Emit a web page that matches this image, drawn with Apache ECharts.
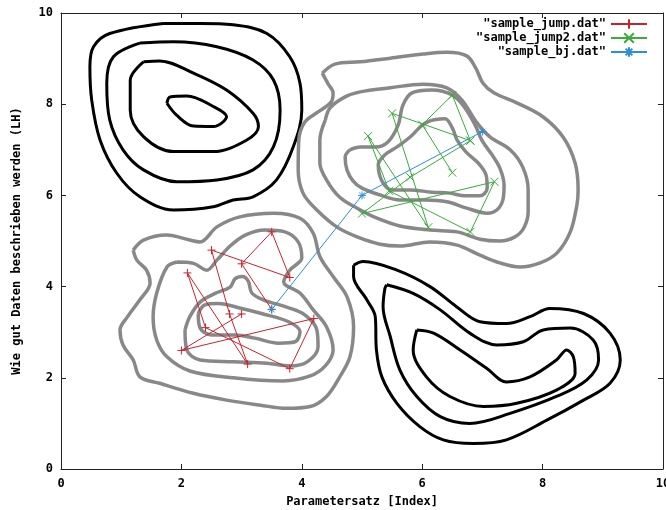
<!DOCTYPE html>
<html>
<head>
<meta charset="utf-8">
<script src="https://cdn.jsdelivr.net/npm/echarts@6/dist/echarts.min.js"></script>
<style>html,body{margin:0;padding:0;background:#fff}#c{width:666px;height:510px}</style>
</head>
<body>
<div id="c"></div>
<script>
// ---- axis ----
const axisMin = 0, axisMax = 10, axisStep = 2;
const xName = 'Parametersatz [Index]';
const yName = 'Wie gut Daten beschrieben werden (LH)';
const seriesNames = ['"sample_jump.dat"', '"sample_jump2.dat"', '"sample_bj.dat"'];

// ---- sampler traces ----
const sampleJump = [[3.5,3.5],[3.0,4.5],[3.5,5.2],[3.8,4.2],[2.5,4.8],[2.8,3.4],[3.1,2.3],[2.1,4.3],[2.4,3.1],[3.8,2.2],[4.2,3.3],[2.0,2.6],[3.0,3.4]];
const sampleJump2 = [[6.5,6.5],[6.0,7.55],[6.5,8.2],[6.8,7.2],[5.5,7.8],[6.1,5.3],[5.1,7.3],[5.45,6.1],[6.8,5.2],[7.2,6.3],[5.0,5.6],[5.8,6.4],[6.8,7.2]];
const sampleBj = [[3.5,3.5],[5.0,6.0],[7.0,7.4]];

// ---- black contours, upper-left mode ----
const blackUL1 = [[1.70,9.77],[0.81,9.55],[0.54,9.26],[0.48,8.82],[0.51,8.09],[0.65,7.21],[0.93,6.48],[1.31,5.97],[1.87,5.68],[2.53,5.75],[2.86,5.90],[3.19,5.97],[3.58,6.34],[3.86,7.07],[4.00,7.87],[3.97,8.46],[3.80,9.04],[3.42,9.55],[2.86,9.74],[2.31,9.77]];
const blackUL2 = [[1.31,9.34],[0.87,9.04],[0.76,8.46],[0.81,7.65],[1.03,7.0],[1.37,6.56],[1.92,6.30],[2.59,6.34],[3.19,6.56],[3.53,7.07],[3.64,7.87],[3.53,8.53],[3.19,8.97],[2.59,9.26],[1.87,9.37]];
const blackUL3 = [[1.37,8.93],[1.15,8.53],[1.15,7.87],[1.37,7.29],[1.87,6.96],[2.53,6.96],[3.08,7.21],[3.28,7.51],[3.19,7.80],[2.75,8.31],[2.20,8.68],[1.64,8.95]];
const blackUL4 = [[1.76,8.02],[1.81,8.16],[2.09,8.18],[2.53,7.95],[2.75,7.73],[2.53,7.51],[2.20,7.52],[1.92,7.76]];

// ---- black contours, lower-right mode ----
const blackLR1 = [[4.86,4.47],[5.02,4.55],[5.58,4.36],[6.13,4.00],[6.57,3.56],[6.96,3.23],[7.40,3.19],[7.79,3.34],[8.12,3.52],[8.68,3.41],[9.12,2.98],[9.29,2.39],[9.12,1.88],[8.68,1.51],[8.07,1.07],[7.40,0.64],[6.85,0.56],[6.35,0.64],[5.96,0.93],[5.58,1.44],[5.33,2.02],[5.24,2.61],[5.22,3.34],[5.08,3.71],[4.86,4.22]];
const blackLR2 = [[5.41,4.04],[5.85,3.85],[6.30,3.49],[6.79,2.98],[7.24,2.72],[7.68,2.79],[8.01,3.05],[8.46,3.09],[8.84,2.83],[8.93,2.39],[8.73,1.95],[8.23,1.59],[7.46,1.22],[6.79,1.00],[6.30,1.15],[5.91,1.59],[5.63,2.17],[5.47,2.90],[5.35,3.56],[5.38,3.96]];
const blackLR3 = [[5.91,3.05],[6.19,2.98],[6.63,2.61],[7.07,2.21],[7.40,1.91],[7.79,2.02],[8.23,2.39],[8.40,2.61],[8.51,2.46],[8.54,2.10],[8.23,1.73],[7.57,1.44],[7.02,1.37],[6.46,1.59],[6.07,2.02],[5.85,2.61]];

// ---- gray contours, lower-left mode ----
const grayLL1 = [[1.20,4.80],[1.37,5.02],[1.76,5.13],[2.14,5.02],[2.31,4.98],[2.59,5.31],[2.97,5.53],[3.53,5.61],[3.97,5.50],[4.19,5.17],[4.30,4.66],[4.52,4.22],[4.75,3.78],[4.86,3.12],[4.80,2.46],[4.63,2.02],[4.41,1.59],[4.14,1.37],[3.75,1.33],[3.31,1.40],[2.75,1.51],[2.20,1.66],[1.64,1.88],[1.31,2.02],[1.20,2.39],[1.03,2.72],[0.98,3.05],[1.10,3.33],[1.31,3.71],[1.48,4.08],[1.42,4.36],[1.26,4.58]];
const grayLL2 = [[1.92,4.54],[2.20,4.51],[2.42,4.36],[2.59,4.58],[2.81,4.89],[3.06,5.13],[3.39,5.24],[3.72,5.20],[3.94,4.98],[4.00,4.63],[3.80,4.36],[3.70,4.10],[3.97,3.86],[4.19,3.49],[4.41,3.12],[4.52,2.61],[4.39,2.26],[4.14,2.04],[3.69,1.93],[2.86,2.00],[2.14,2.15],[1.76,2.46],[1.59,2.83],[1.53,3.33],[1.59,3.86],[1.76,4.43]];
const grayLL3 = [[2.06,3.05],[2.14,3.34],[2.31,3.66],[2.56,3.85],[2.81,3.99],[2.89,4.17],[3.01,4.22],[3.11,4.12],[3.17,3.86],[3.36,3.71],[3.75,3.55],[4.05,3.38],[4.25,3.05],[4.27,2.68],[4.09,2.35],[3.80,2.26],[3.42,2.32],[2.86,2.35],[2.31,2.39],[2.09,2.61]];
const grayLL4 = [[2.28,3.41],[2.39,3.60],[2.61,3.63],[3.00,3.52],[3.33,3.41],[3.78,3.23],[3.97,3.01],[3.89,2.79],[3.61,2.76],[3.22,2.87],[2.89,2.94],[2.50,2.94],[2.31,3.09]];

// ---- gray contours, upper-right mode ----
const grayUR1 = [[4.34,8.68],[4.55,8.88],[4.97,8.93],[5.47,9.01],[6.01,9.10],[6.41,9.14],[6.74,9.06],[6.89,8.79],[7.01,8.46],[7.19,8.25],[7.57,8.03],[8.01,7.72],[8.34,7.28],[8.54,6.71],[8.59,6.12],[8.57,5.79],[8.46,5.20],[8.24,4.74],[7.96,4.52],[7.62,4.43],[7.29,4.52],[6.96,4.69],[6.58,4.91],[6.13,4.98],[5.63,4.89],[5.30,4.93],[4.92,5.09],[4.58,5.31],[4.25,5.68],[4.02,6.05],[3.94,6.56],[3.95,7.21],[4.05,7.61],[4.27,7.83],[4.49,8.05],[4.52,8.25],[4.44,8.44]];
const grayUR2 = [[4.39,7.65],[4.47,7.92],[4.72,8.16],[4.97,8.27],[5.47,8.36],[6.01,8.44],[6.41,8.36],[6.66,8.09],[6.91,7.59],[7.13,7.28],[7.46,7.00],[7.67,6.62],[7.76,6.12],[7.76,5.64],[7.69,5.29],[7.54,5.09],[7.29,5.00],[6.96,5.04],[6.58,5.20],[6.13,5.24],[5.63,5.33],[5.25,5.50],[4.92,5.72],[4.63,5.96],[4.42,6.32],[4.30,6.71],[4.30,7.21]];
const grayUR3 = [[4.80,7.00],[4.97,7.06],[5.22,7.06],[5.43,7.17],[5.60,7.54],[5.68,7.98],[5.83,8.25],[6.16,8.31],[6.50,8.20],[6.71,7.92],[6.88,7.54],[6.99,7.21],[7.16,6.89],[7.29,6.60],[7.36,6.23],[7.34,5.90],[7.24,5.68],[7.08,5.61],[6.74,5.72],[6.41,5.86],[6.05,5.90],[5.63,5.90],[5.30,6.01],[5.00,6.16],[4.85,6.32],[4.75,6.56],[4.72,6.84]];
const grayUR4 = [[6.16,7.65],[6.38,7.68],[6.50,7.48],[6.58,7.21],[6.73,6.95],[6.93,6.71],[7.06,6.45],[7.08,6.16],[6.96,5.99],[6.71,5.99],[6.46,6.05],[6.16,6.07],[5.80,6.12],[5.50,6.12],[5.33,6.32],[5.27,6.67],[5.38,6.89],[5.60,7.08],[5.80,7.28],[6.00,7.54]];

const blackContours = [blackUL1, blackUL2, blackUL3, blackUL4, blackLR1, blackLR2, blackLR3];
const grayContours = [grayLL1, grayLL2, grayLL3, grayLL4, grayUR1, grayUR2, grayUR3, grayUR4];

// ---- styling ----
const FONT = 'DejaVu Sans Mono';
const txt = {fontFamily: FONT, fontWeight: 'bold', fontSize: 12, color: '#000'};
const RED = '#c8232c', GREEN = '#3caa3c', BLUE = '#2c8fd6';
const PLUS = 'path://M0,5L10,5M5,0L5,10';
const CROSS = 'path://M0,0L10,10M10,0L0,10';
const STAR = 'path://M0,5L10,5M5,0L5,10M1.5,1.5L8.5,8.5M8.5,1.5L1.5,8.5';

function contour(points, color, width) {
  return {
    type: 'line', data: points.concat([points[0]]), smooth: 0.35,
    symbol: 'none', showSymbol: false, silent: true, z: 2,
    lineStyle: {color: color, width: width}
  };
}
function trace(name, data, color, symbol) {
  return {
    name: name, type: 'line', data: data, symbol: symbol, symbolSize: 8, showSymbol: true,
    z: 5, lineStyle: {color: color, width: 1},
    itemStyle: {color: color, borderColor: color, borderWidth: 1},
    emphasis: {disabled: true}
  };
}
const axisLine = {show: true, onZero: false, lineStyle: {color: '#222', width: 1}};
const axisTick = {show: true, inside: true, length: 5, lineStyle: {color: '#222', width: 1}};

const chart = echarts.init(document.getElementById('c'), null, {renderer: 'canvas'});
chart.setOption({
  animation: false,
  backgroundColor: '#fff',
  grid: {left: 61, right: 3, top: 13, bottom: 41, containLabel: false, outerBoundsMode: 'none'},
  xAxis: [
    {type: 'value', min: axisMin, max: axisMax, interval: axisStep, position: 'bottom',
     axisLine: axisLine, axisTick: axisTick, splitLine: {show: false},
     axisLabel: Object.assign({margin: 9}, txt),
     name: xName, nameLocation: 'middle', nameGap: 27, nameTextStyle: txt},
    {type: 'value', min: axisMin, max: axisMax, interval: axisStep, position: 'top',
     axisLine: axisLine, axisTick: axisTick, splitLine: {show: false}, axisLabel: {show: false}}
  ],
  yAxis: [
    {type: 'value', min: axisMin, max: axisMax, interval: axisStep, position: 'left',
     axisLine: axisLine, axisTick: axisTick, splitLine: {show: false},
     axisLabel: Object.assign({margin: 8}, txt),
     name: yName, nameLocation: 'middle', nameGap: 38, nameTextStyle: txt},
    {type: 'value', min: axisMin, max: axisMax, interval: axisStep, position: 'right',
     axisLine: axisLine, axisTick: axisTick, splitLine: {show: false}, axisLabel: {show: false}}
  ],
  legend: seriesNames.map(function (n, i) {
    return {data: [n], right: 18, top: 18 + i * 14, orient: 'horizontal', align: 'right',
            itemWidth: 36, itemHeight: 12, padding: 0, selectedMode: false,
            textStyle: Object.assign({lineHeight: 12}, txt)};
  }),
  series: blackContours.map(function (c) { return contour(c, '#000', 3); })
    .concat(grayContours.map(function (c) { return contour(c, '#888', 3.5); }))
    .concat([
      trace(seriesNames[0], sampleJump, RED, PLUS),
      trace(seriesNames[1], sampleJump2, GREEN, CROSS),
      trace(seriesNames[2], sampleBj, BLUE, STAR)
    ])
});
</script>
</body>
</html>
